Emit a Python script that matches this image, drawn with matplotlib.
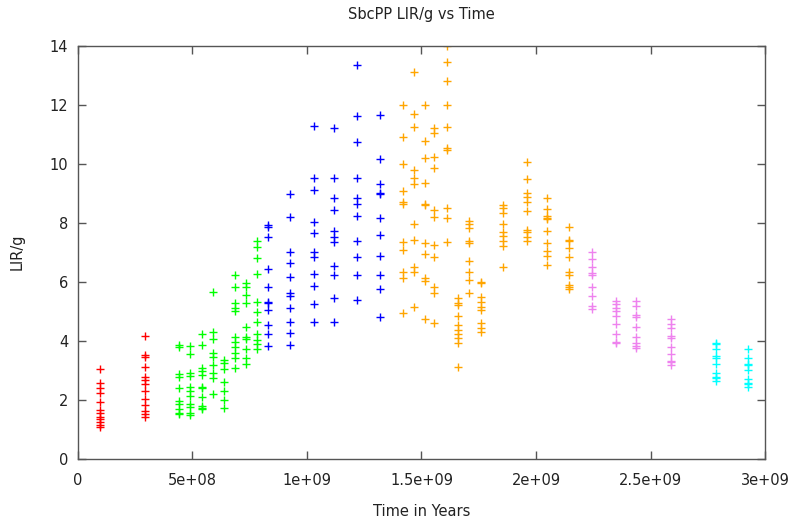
import matplotlib
matplotlib.use('Agg')
import matplotlib.pyplot as plt

# time positions (in units of 1e9 years) and LIR/g values per column
red_x = [0.096, 0.294]
red_y = [
    [3.04, 2.59, 2.42, 2.25, 1.94, 1.66, 1.55, 1.43, 1.35, 1.24, 1.15, 1.07],
    [4.17, 3.53, 3.45, 3.13, 2.79, 2.68, 2.53, 2.31, 2.02, 1.83, 1.63, 1.54, 1.43],
]

green_x = [0.441, 0.489, 0.540, 0.590, 0.638, 0.686, 0.732, 0.780]
green_y = [
    [3.86, 3.80, 2.88, 2.77, 2.42, 1.95, 1.85, 1.68, 1.55, 1.51],
    [3.82, 3.55, 2.90, 2.80, 2.45, 2.32, 2.13, 1.85, 1.75, 1.55, 1.50],
    [4.23, 3.85, 3.10, 3.00, 2.85, 2.45, 2.40, 2.10, 1.80, 1.72, 1.68],
    [5.67, 4.30, 4.06, 3.60, 3.45, 3.19, 2.92, 2.74, 2.20],
    [3.36, 3.24, 3.05, 2.60, 2.31, 2.01, 1.72],
    [6.24, 5.84, 5.28, 5.11, 5.02, 4.13, 3.98, 3.81, 3.60, 3.41, 3.07],
    [5.96, 5.84, 5.56, 5.29, 4.49, 4.15, 4.06, 3.72, 3.43, 3.22],
    [7.40, 7.20, 6.80, 6.28, 5.33, 4.97, 4.65, 4.24, 4.04, 3.90, 3.74],
]

blue_x = [0.830, 0.926, 1.031, 1.119, 1.217, 1.319]
blue_y = [
    [7.93, 7.88, 7.54, 6.43, 5.84, 5.33, 5.30, 5.05, 4.54, 4.24, 3.84],
    [8.97, 8.21, 7.03, 6.63, 6.18, 5.62, 5.53, 5.11, 4.65, 4.26, 3.86],
    [11.29, 9.52, 9.12, 8.05, 7.67, 7.03, 6.86, 6.26, 5.87, 5.24, 4.65],
    [11.23, 9.52, 8.84, 8.44, 7.74, 7.54, 7.37, 6.54, 6.24, 5.47, 4.65],
    [13.36, 11.63, 10.74, 9.52, 8.84, 8.64, 8.25, 7.39, 6.86, 6.24, 5.39],
    [11.66, 10.16, 9.32, 9.03, 8.97, 8.16, 7.59, 6.88, 6.24, 5.75, 4.80],
]

orange_x = [1.419, 1.467, 1.515, 1.555, 1.610, 1.658, 1.707, 1.759,
            1.856, 1.961, 2.048, 2.144]
orange_y = [
    [12.00, 10.93, 9.99, 9.09, 8.72, 8.64, 7.37, 7.08, 6.35, 6.13, 4.94],
    [13.11, 11.69, 11.27, 9.80, 9.52, 9.32, 7.97, 7.42, 6.52, 6.35, 5.14],
    [12.00, 10.79, 10.21, 9.35, 8.64, 8.61, 7.31, 6.95, 6.13, 6.04, 4.74],
    [11.21, 11.06, 10.25, 9.87, 8.44, 8.21, 7.25, 6.86, 5.84, 5.62, 4.60],
    [14.00, 13.47, 12.81, 12.00, 11.24, 10.53, 10.47, 8.50, 8.16, 7.37],
    [5.45, 5.28, 5.22, 4.85, 4.54, 4.37, 4.24, 4.09, 3.94, 3.11],
    [8.08, 7.97, 7.82, 7.40, 7.31, 6.72, 6.35, 6.07, 5.62],
    [6.01, 5.96, 5.50, 5.33, 5.16, 5.05, 4.60, 4.45, 4.32],
    [8.61, 8.50, 8.33, 7.97, 7.71, 7.56, 7.40, 7.22, 6.52],
    [10.08, 9.48, 9.01, 8.89, 8.72, 8.42, 7.76, 7.71, 7.54, 7.40],
    [8.84, 8.46, 8.24, 8.16, 8.12, 7.74, 7.31, 7.06, 6.88, 6.58],
    [7.88, 7.42, 7.40, 7.14, 6.84, 6.35, 6.24, 5.90, 5.84, 5.75],
]

violet_x = [2.245, 2.349, 2.437, 2.590]
violet_y = [
    [7.03, 6.78, 6.52, 6.30, 6.24, 5.84, 5.52, 5.20, 5.10],
    [5.37, 5.25, 5.11, 5.02, 4.85, 4.56, 4.23, 3.98, 3.92],
    [5.37, 5.19, 4.88, 4.82, 4.49, 4.15, 3.92, 3.83, 3.75],
    [4.74, 4.58, 4.43, 4.17, 4.09, 3.81, 3.56, 3.33, 3.30, 3.19],
]

cyan_x = [2.786, 2.926]
cyan_y = [
    [3.92, 3.90, 3.73, 3.49, 3.41, 3.21, 2.90, 2.79, 2.76, 2.65],
    [3.72, 3.43, 3.21, 3.19, 3.02, 2.70, 2.57, 2.54, 2.43],
]

x_ticks = [0, 0.5e9, 1e9, 1.5e9, 2e9, 2.5e9, 3e9]
x_tick_labels = ['0', '5e+08', '1e+09', '1.5e+09', '2e+09', '2.5e+09', '3e+09']
y_ticks = [0, 2, 4, 6, 8, 10, 12, 14]

groups = [
    (red_x, red_y, '#ff0000'),
    (green_x, green_y, '#00ff00'),
    (blue_x, blue_y, '#0000ff'),
    (orange_x, orange_y, '#ffa500'),
    (violet_x, violet_y, '#ee82ee'),
    (cyan_x, cyan_y, '#00ffff'),
]

fig = plt.figure(figsize=(7.94, 5.25), dpi=100)
ax = fig.add_axes([0.0982, 0.1257, 0.8653, 0.7867])

for xs, ys, color in groups:
    px, py = [], []
    for x, col in zip(xs, ys):
        px += [x * 1e9] * len(col)
        py += col
    ax.plot(px, py, linestyle='none', marker='+', markersize=5.5,
            markeredgewidth=1.0, color=color)

ax.set_xlim(0, 3e9)
ax.set_ylim(0, 14)
ax.set_xticks(x_ticks)
ax.set_xticklabels(x_tick_labels)
ax.set_yticks(y_ticks)

frame_color = '#555555'
for s in ax.spines.values():
    s.set_color(frame_color)
    s.set_linewidth(1.0)
ax.tick_params(direction='in', length=6, width=1, color=frame_color,
               top=True, right=True, labelsize=10.5, labelcolor='#222222')
ax.tick_params(axis='x', pad=10)
ax.tick_params(axis='y', pad=7)

fig.text(0.5309, 1 - 15 / 525, 'SbcPP LIR/g vs Time', ha='center', va='center',
         fontsize=10.5, color='#222222')
fig.text(0.5309, 1 - 512 / 525, 'Time in Years', ha='center', va='center',
         fontsize=10.5, color='#222222')
fig.text(17 / 794, 1 - 252 / 525, 'LIR/g', ha='center', va='center',
         rotation=90, fontsize=10.5, color='#222222')

fig.savefig('out.png', dpi=100)
